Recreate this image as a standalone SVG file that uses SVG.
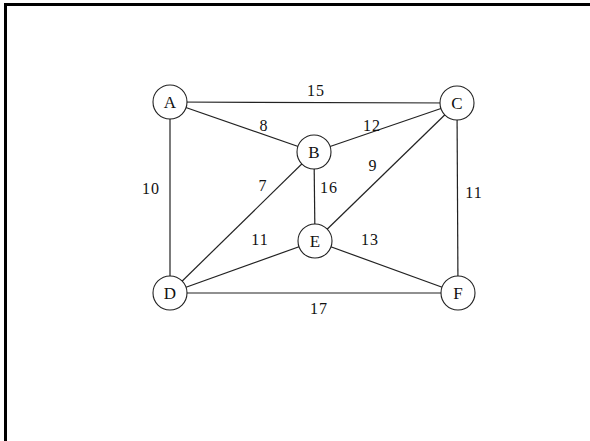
<svg xmlns="http://www.w3.org/2000/svg" width="590" height="441" viewBox="0 0 590 441">
<style>
.n{fill:#fff;stroke:#222;stroke-width:1.1}
.e{stroke:#222;stroke-width:1.2;fill:none}
.t{font-family:"Liberation Serif",serif;font-size:17px;fill:#111;text-anchor:middle}
.w{font-family:"Liberation Serif",serif;font-size:16px;fill:#111;text-anchor:middle;letter-spacing:1px}
</style>
<rect width="590" height="441" fill="#fff"/>
<path d="M5.5,441 V4.5 H590" fill="none" stroke="#000" stroke-width="3"/>
<g id="edges">
<line class="e" x1="170" y1="102" x2="457" y2="103"/>
<line class="e" x1="170" y1="102" x2="314" y2="152"/>
<line class="e" x1="170" y1="102" x2="170" y2="293"/>
<line class="e" x1="314" y1="152" x2="457" y2="103"/>
<line class="e" x1="314" y1="152" x2="170" y2="293"/>
<line class="e" x1="314" y1="152" x2="315" y2="241"/>
<line class="e" x1="457" y1="103" x2="315" y2="241"/>
<line class="e" x1="457" y1="103" x2="458" y2="293"/>
<line class="e" x1="170" y1="293" x2="315" y2="241"/>
<line class="e" x1="170" y1="293" x2="458" y2="293"/>
<line class="e" x1="315" y1="241" x2="458" y2="293"/>
</g>
<g id="labels">
<text class="w" x="316" y="96">15</text>
<text class="w" x="264" y="131">8</text>
<text class="w" x="372" y="131">12</text>
<text class="w" x="151" y="194">10</text>
<text class="w" x="263" y="191">7</text>
<text class="w" x="329" y="193">16</text>
<text class="w" x="373" y="171">9</text>
<text class="w" x="474" y="198">11</text>
<text class="w" x="260" y="245">11</text>
<text class="w" x="370" y="245">13</text>
<text class="w" x="319" y="314">17</text>
</g>
<g id="A"><circle class="n" cx="170" cy="102" r="17"/><text class="t" x="170" y="108">A</text></g>
<g id="B"><circle class="n" cx="314" cy="152" r="17"/><text class="t" x="314" y="158">B</text></g>
<g id="C"><circle class="n" cx="457" cy="103" r="17"/><text class="t" x="457" y="109">C</text></g>
<g id="D"><circle class="n" cx="170" cy="293" r="17"/><text class="t" x="170" y="299">D</text></g>
<g id="E"><circle class="n" cx="315" cy="241" r="17"/><text class="t" x="315" y="247">E</text></g>
<g id="F"><circle class="n" cx="458" cy="293" r="17"/><text class="t" x="458" y="299">F</text></g>
</svg>
